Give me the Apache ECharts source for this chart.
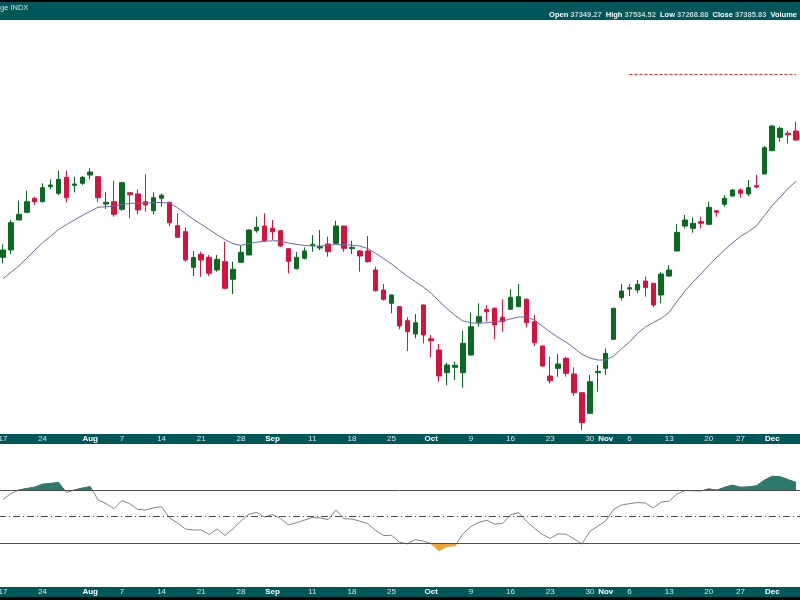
<!DOCTYPE html>
<html>
<head>
<meta charset="utf-8">
<script src="https://cdn.jsdelivr.net/npm/echarts@6/dist/echarts.min.js"></script>
<style>html,body{margin:0;padding:0;background:#fff;}#c{width:800px;height:600px;}</style>
</head>
<body>
<div id="c"></div>
<script>
const dates = [
 '07-17','07-18','07-19','07-20','07-21','07-24','07-25','07-26','07-27','07-28','07-31',
 '08-01','08-02','08-03','08-04','08-07','08-08','08-09','08-10','08-11','08-14','08-15','08-16','08-17','08-18',
 '08-21','08-22','08-23','08-24','08-25','08-28','08-29','08-30','08-31',
 '09-01','09-05','09-06','09-07','09-08','09-11','09-12','09-13','09-14','09-15','09-18','09-19','09-20','09-21','09-22',
 '09-25','09-26','09-27','09-28','09-29',
 '10-02','10-03','10-04','10-05','10-06','10-09','10-10','10-11','10-12','10-13','10-16','10-17','10-18','10-19','10-20',
 '10-23','10-24','10-25','10-26','10-27','10-30','10-31',
 '11-01','11-02','11-03','11-06','11-07','11-08','11-09','11-10','11-13','11-14','11-15','11-16','11-17',
 '11-20','11-21','11-22','11-24','11-27','11-28','11-29','11-30',
 '12-01','12-04','12-05','12-06'
];
const opens = [34572,34667,35057,35157,35339,35295,35490,35404,35612,35508,35534,35642,35620,35265,35295,35196,35412,35395,35295,35178,
 35339,35287,34983,34905,34442,34611,34572,34407,34515,34286,34507,34602,34918,34979,34949,34918,34684,34424,34559,34723,
 34693,34745,34754,34979,34684,34654,34654,34407,34147,33974,33930,33748,33575,33952,33514,33367,33072,33142,33072,33302,
 33727,33896,33909,33792,33896,33930,34026,33735,33419,33029,33129,33259,33055,32812,32544,33072,33129,33506,34047,34160,
 34147,34264,34234,34082,34329,34654,34979,34949,35035,35001,35178,35261,35369,35447,35395,35503,35655,35958,36132,36184,36214];
const closes = [34667,35022,35131,35295,35295,35477,35512,35586,35347,35525,35612,35681,35347,35287,35131,35542,35386,35187,35252,35347,
 35378,35022,34832,34537,34570,34537,34364,34546,34169,34416,34637,34927,34962,34788,34905,34719,34520,34572,34654,34741,
 34710,34645,34979,34689,34702,34589,34515,34138,34026,34082,33679,33605,33722,33562,33488,33029,33172,33168,33454,33670,
 33800,33865,33692,33735,34052,34060,33722,33462,33159,32968,33185,33064,32812,32422,32955,33090,33324,33909,34134,34177,
 34221,34177,33952,34355,34407,34897,35057,35014,35014,35222,35157,35339,35447,35404,35477,35486,35997,36279,36249,36166,36097];
const lows = [34494,34611,35057,35144,35252,35287,35456,35382,35287,35417,35512,35586,35287,35200,35100,35178,35079,35131,35165,35131,
 35230,34979,34832,34515,34329,34320,34329,34385,34160,34095,34502,34602,34892,34775,34797,34710,34364,34416,34546,34645,
 34667,34580,34745,34645,34615,34385,34502,34130,34008,33844,33636,33354,33519,33454,33272,32955,32912,32977,32877,33295,
 33670,33735,33506,33605,33890,33925,33662,33419,33150,32934,33020,33020,32769,32327,32540,32825,33042,33500,34008,34069,
 34104,34060,33922,33974,34320,34648,34949,34892,34949,34992,35100,35230,35360,35347,35369,35469,35650,35950,36075,36054,36088];
const highs = [34741,35057,35308,35438,35360,35534,35586,35698,35698,35620,35629,35729,35629,35417,35568,35555,35412,35456,35651,35417,
 35404,35295,35144,34962,34654,34645,34602,34602,34775,34515,34719,34936,35100,35144,35057,34927,34689,34641,34702,34862,
 34927,34840,35048,34985,34788,34667,34849,34450,34225,34090,33939,33792,33835,33960,33562,33445,33202,33215,33618,33852,
 33974,33952,33917,34026,34156,34225,34039,33822,33425,33280,33315,33280,33142,32820,33042,33172,33389,33915,34225,34225,
 34277,34320,34240,34381,34472,35005,35122,35092,35100,35295,35187,35382,35456,35469,35577,35642,36019,36292,36270,36218,36335];
const ma20 = [34295,34377,34460,34560,34663,34762,34846,34934,34997,35057,35117,35170,35223,35229,35236,35257,35274,35274,35278,35283,
 35284,35274,35216,35142,35067,35001,34934,34865,34801,34750,34726,34750,34768,34781,34787,34783,34758,34740,34727,34719,
 34719,34729,34737,34737,34729,34719,34685,34624,34555,34485,34402,34325,34256,34187,34104,34001,33904,33817,33744,33721,
 33714,33721,33736,33744,33770,33796,33796,33757,33678,33601,33530,33471,33393,33312,33263,33237,33236,33289,33384,33470,
 33580,33665,33725,33778,33856,34001,34135,34250,34354,34468,34572,34670,34761,34844,34906,34979,35113,35244,35353,35470,35559];
const rsi = [62.8,67.4,70.0,71.1,72.1,74.4,74.9,75.7,68.1,70.0,71.4,72.5,62.5,59.7,55.9,62.1,59.6,55.3,54.9,56.6,
 57.4,48.9,45.1,40.6,39.8,39.8,36.4,40.6,35.7,40.6,46.6,51.7,53.1,49.5,51.5,48.5,43.7,45.3,47.2,49.2,
 48.9,47.7,54.9,48.3,48.1,46.5,44.6,39.4,35.6,35.8,30.5,29.4,32.6,31.5,29.4,24.3,27.7,28.0,37.0,42.4,
 45.6,47.1,44.3,44.7,51.3,52.9,46.6,41.2,36.5,33.5,36.9,36.6,33.2,29.2,38.7,42.7,46.6,55.3,58.7,59.7,
 60.5,60.2,56.4,60.9,61.7,67.0,69.6,69.4,69.2,70.8,69.8,72.0,73.6,72.0,72.3,73.1,77.3,80.3,80.0,77.8,75.7];
const tickDates = ['07-17','07-24','08-01','08-07','08-14','08-21','08-28','09-01','09-11','09-18','09-25','10-02','10-09','10-16','10-23','10-30','11-01','11-06','11-13','11-20','11-27','12-01'];
const tickLabels = ['17','24','Aug','7','14','21','28','Sep','11','18','25','Oct','9','16','23','30','Nov','6','13','20','27','Dec'];
const monthLabels = ['Aug','Sep','Oct','Nov','Dec'];
const resistance = 36955;
const resistanceStart = '11-06';
const rsiLevels = [70, 50, 30];
const headerLeft = 'ge INDX';
const ohlcLabels = ['Open','High','Low','Close','Volume'];
const ohlcValues = ['37349.27','37534.52','37268.88','37385.83',''];

const FONT = '"Liberation Sans", Arial, sans-serif';
const TEAL = '#00575a';
const labelMap = {};
tickDates.forEach((d, i) => labelMap[d] = tickLabels[i]);

function xAxisFor(gi) {
  return {
    type: 'category', gridIndex: gi, data: dates, boundaryGap: true, offset: 5,
    axisLine: { show: true, onZero: false, lineStyle: { color: TEAL, width: 10 } },
    axisTick: { show: false }, splitLine: { show: false },
    axisLabel: {
      interval: (i, v) => labelMap[v] !== undefined,
      formatter: (v) => { const t = labelMap[v] || ''; return monthLabels.includes(t) ? '{m|' + t + '}' : t; },
      margin: 0, verticalAlign: 'middle', color: '#d9e6e6', fontSize: 8, fontFamily: FONT,
      rich: { m: { fontWeight: 'bold', color: '#ffffff', fontSize: 8, fontFamily: FONT } }
    }
  };
}
const hiddenY = (gi, min, max) => ({
  type: 'value', gridIndex: gi, min: min, max: max, scale: true,
  axisLine: { show: false }, axisTick: { show: false }, axisLabel: { show: false }, splitLine: { show: false }
});

let headerRich = ohlcLabels.map((l, i) => '{l|' + l + '}' + (ohlcValues[i] ? ' {v|' + ohlcValues[i] + '}' : '')).join('  ');

const chart = echarts.init(document.getElementById('c'), null, { renderer: 'canvas' });
chart.setOption({
  animation: false,
  backgroundColor: '#ffffff',
  graphic: [
    { type: 'rect', left: 0, top: 0, shape: { width: 800, height: 2 }, style: { fill: '#000' }, z: 0 },
    { type: 'rect', left: 0, top: 2, shape: { width: 800, height: 18 }, style: { fill: TEAL }, z: 0 },
    { type: 'rect', left: 0, top: 597, shape: { width: 800, height: 3 }, style: { fill: '#000' }, z: 0 }
  ],
  title: [
    { text: headerLeft, left: 0, top: 4, padding: 0, z: 10,
      textStyle: { color: '#d6e2e2', fontSize: 7.5, fontWeight: 'normal', fontFamily: FONT } },
    { text: headerRich, right: 3, top: 11, padding: 0, z: 10,
      textStyle: { fontSize: 7.5, fontFamily: FONT,
        rich: { l: { color: '#ffffff', fontWeight: 'bold', fontSize: 7.5, fontFamily: FONT },
                v: { color: '#c4d4d4', fontSize: 7.5, fontFamily: FONT } } } }
  ],
  grid: [
    { left: -1, right: 0, top: 20, height: 414, outerBoundsMode: 'none', containLabel: false },
    { left: -1, right: 0, top: 444, height: 143, outerBoundsMode: 'none', containLabel: false }
  ],
  xAxis: [xAxisFor(0), xAxisFor(1)],
  yAxis: [hiddenY(0, 32275, 37657), hiddenY(1, -3.2, 104.7)],
  visualMap: [
    { type: 'piecewise', show: false, seriesIndex: 3, dimension: 1,
      pieces: [{ gt: 70, lte: 1000, color: '#2b7a6b' }], outOfRange: { color: 'rgba(0,0,0,0)' } },
    { type: 'piecewise', show: false, seriesIndex: 4, dimension: 1,
      pieces: [{ gte: -1000, lt: 30, color: '#eea534' }], outOfRange: { color: 'rgba(0,0,0,0)' } }
  ],
  series: [
    {
      type: 'candlestick', xAxisIndex: 0, yAxisIndex: 0, barWidth: 5,
      data: dates.map((d, i) => [opens[i], closes[i], lows[i], highs[i]]),
      itemStyle: { color: '#0b6a22', color0: '#d8123f', borderColor: '#0b6a22', borderColor0: '#d8123f', borderWidth: 1 },
      markLine: {
        silent: true, symbol: 'none', label: { show: false },
        lineStyle: { color: '#e02828', type: [3, 2], width: 1 },
        data: [[{ coord: [resistanceStart, resistance] }, { coord: [dates[dates.length - 1], resistance] }]]
      }
    },
    {
      type: 'line', xAxisIndex: 0, yAxisIndex: 0, data: ma20, symbol: 'none',
      lineStyle: { color: '#6868b0', width: 1 }, z: 3
    },
    {
      type: 'line', xAxisIndex: 1, yAxisIndex: 1, data: rsi, symbol: 'none',
      lineStyle: { color: '#7a8686', width: 1 },
      markLine: {
        silent: true, symbol: 'none', label: { show: false },
        data: [
          { yAxis: rsiLevels[0], lineStyle: { color: '#505050', width: 1, type: 'solid' } },
          { yAxis: rsiLevels[1], lineStyle: { color: '#505050', width: 1, type: [7, 3, 1, 3] } },
          { yAxis: rsiLevels[2], lineStyle: { color: '#505050', width: 1, type: 'solid' } }
        ]
      }
    },
    {
      type: 'line', xAxisIndex: 1, yAxisIndex: 1, data: rsi, symbol: 'none',
      lineStyle: { width: 1 }, areaStyle: { origin: rsiLevels[0], opacity: 1 }, z: 4
    },
    {
      type: 'line', xAxisIndex: 1, yAxisIndex: 1, data: rsi, symbol: 'none',
      lineStyle: { width: 1 }, areaStyle: { origin: rsiLevels[2], opacity: 1 }, z: 4
    }
  ]
});
</script>
</body>
</html>
